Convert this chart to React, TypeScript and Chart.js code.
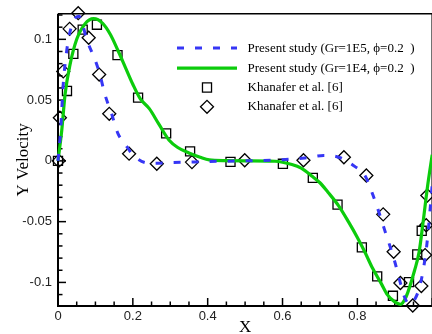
import React, { useEffect, useRef } from 'react';
import { Chart, registerables } from 'chart.js';

Chart.register(...registerables);

// Present study, Gr=1E5 (blue dashed)
const gr1e5X = [0, 0.007, 0.014, 0.023, 0.032, 0.045, 0.056, 0.066, 0.076, 0.098, 0.112, 0.125, 0.143, 0.16, 0.178, 0.2, 0.236, 0.26, 0.3, 0.35, 0.4, 0.5, 0.6, 0.66, 0.71, 0.75, 0.793, 0.82, 0.845, 0.873, 0.9, 0.912, 0.926, 0.939, 0.955, 0.966, 0.977, 0.986, 1.0];
const gr1e5Y = [0, 0.025, 0.063, 0.09, 0.106, 0.117, 0.119, 0.112, 0.1005, 0.084, 0.071, 0.055, 0.039, 0.0226, 0.0145, 0.005, -0.0016, -0.002, -0.0015, -0.001, -0.0005, 0, 0.001, 0.0024, 0.0045, 0.003, -0.0045, -0.012, -0.031, -0.057, -0.083, -0.097, -0.112, -0.118, -0.113, -0.104, -0.088, -0.068, -0.02];

// Present study, Gr=1E4 (green solid)
const gr1e4X = [0, 0.01, 0.019, 0.032, 0.05, 0.072, 0.095, 0.12, 0.14, 0.16, 0.18, 0.2, 0.22, 0.244, 0.27, 0.297, 0.32, 0.35, 0.38, 0.404, 0.45, 0.5, 0.58, 0.625, 0.65, 0.678, 0.7, 0.722, 0.75, 0.776, 0.8, 0.82, 0.84, 0.864, 0.88, 0.9, 0.915, 0.93, 0.953, 0.965, 0.975, 0.988, 1.0];
const gr1e4Y = [0, 0.025, 0.055, 0.079, 0.1, 0.1127, 0.117, 0.113, 0.104, 0.091, 0.077, 0.063, 0.051, 0.043, 0.03, 0.017, 0.011, 0.0065, 0.003, 0.0008, 0.0002, 0, -0.0003, -0.003, -0.006, -0.0124, -0.018, -0.026, -0.037, -0.05, -0.063, -0.075, -0.088, -0.101, -0.11, -0.116, -0.118, -0.112, -0.09, -0.075, -0.052, -0.02, 0.005];

// Khanafer et al. [6] (squares)
const squareX = [0, 0.024, 0.041, 0.066, 0.104, 0.159, 0.214, 0.289, 0.353, 0.461, 0.601, 0.681, 0.747, 0.812, 0.853, 0.895, 0.938, 0.96, 0.972];
const squareY = [0, 0.0575, 0.088, 0.108, 0.112, 0.087, 0.052, 0.0226, 0.0078, -0.0008, -0.0024, -0.014, -0.036, -0.0712, -0.095, -0.111, -0.0997, -0.077, -0.0575];

// Khanafer et al. [6] (diamonds)
const diamondX = [0.002, 0.005, 0.014, 0.031, 0.054, 0.082, 0.11, 0.137, 0.19, 0.264, 0.358, 0.499, 0.656, 0.764, 0.824, 0.869, 0.897, 0.915, 0.948, 0.971, 0.981, 0.984, 0.987];
const diamondY = [0, 0.0355, 0.0736, 0.1086, 0.1215, 0.1013, 0.071, 0.0387, 0.0059, -0.0024, -0.001, 0.0005, 0.0005, 0.003, -0.012, -0.044, -0.0748, -0.1005, -0.119, -0.103, -0.0775, -0.053, -0.0285];

const seriesLabels = [
  'Present study (Gr=1E5, \u03d5=0.2  )',
  'Present study (Gr=1E4, \u03d5=0.2  )',
  'Khanafer et al. [6]',
  'Khanafer et al. [6]',
];

const xMajorTicks = [0, 0.2, 0.4, 0.6, 0.8, 1];
const yMajorTicks = [-0.1, -0.05, 0, 0.05, 0.1];
const xTickLabels = ['0', '0.2', '0.4', '0.6', '0.8', ''];
const yTickLabels = ['-0.1', '-0.05', '0', '0.05', '0.1'];
const xMinorStep = 0.05;
const yMinorStep = 0.01;

const toPoints = (xs: number[], ys: number[]) => xs.map((x, i) => ({ x, y: ys[i] }));

const framePlugin = {
  id: 'frameTicks',
  beforeDatasetsDraw(chart: any) {
    const { ctx, chartArea: a, scales } = chart;
    const xs = scales.x;
    const ys = scales.y;
    ctx.save();
    ctx.strokeStyle = '#000';
    ctx.lineWidth = 1.5;
    ctx.beginPath();
    ctx.moveTo(a.left, a.top);
    ctx.lineTo(a.right, a.top);
    ctx.lineTo(a.right, a.bottom);
    ctx.stroke();
    ctx.lineWidth = 2;
    ctx.beginPath();
    ctx.moveTo(a.left, a.top);
    ctx.lineTo(a.left, a.bottom);
    ctx.lineTo(a.right, a.bottom);
    ctx.stroke();
    ctx.lineWidth = 1.5;
    const nx = Math.round((xs.max - xs.min) / xMinorStep);
    for (let i = 0; i <= nx; i++) {
      const v = xs.min + i * xMinorStep;
      const major = xMajorTicks.some((t) => Math.abs(t - v) < 1e-6);
      const px = xs.getPixelForValue(v);
      ctx.beginPath();
      ctx.moveTo(px, a.bottom);
      ctx.lineTo(px, a.bottom - (major ? 8 : 4.5));
      ctx.stroke();
    }
    const start = Math.ceil(ys.min / yMinorStep - 1e-6);
    const end = Math.floor(ys.max / yMinorStep + 1e-6);
    for (let k = start; k <= end; k++) {
      const v = k * yMinorStep;
      const major = yMajorTicks.some((t) => Math.abs(t - v) < 1e-6);
      const py = ys.getPixelForValue(v);
      ctx.beginPath();
      ctx.moveTo(a.left, py);
      ctx.lineTo(a.left + (major ? 8 : 4.5), py);
      ctx.stroke();
    }
    ctx.restore();
  },
};

const legendPlugin = {
  id: 'insideLegend',
  afterDraw(chart: any) {
    const { ctx, chartArea: a } = chart;
    const ds = chart.data.datasets;
    const x0 = a.left + 119;
    const x1 = a.left + 179;
    const xm = (x0 + x1) / 2;
    const tx = a.left + 189.5;
    const rows = [a.top + 34.3, a.top + 54.3, a.top + 73.7, a.top + 93];
    ctx.save();
    ctx.font = '13px "Liberation Serif", "Times New Roman", serif';
    ctx.textBaseline = 'middle';
    ctx.textAlign = 'left';
    ctx.fillStyle = '#000';
    ds.forEach((d: any, i: number) => {
      const y = rows[i];
      if (d.showLine) {
        ctx.save();
        ctx.strokeStyle = d.borderColor;
        ctx.lineWidth = d.borderWidth;
        ctx.setLineDash(d.borderDash || []);
        ctx.beginPath();
        ctx.moveTo(x0, y);
        ctx.lineTo(x1, y);
        ctx.stroke();
        ctx.restore();
      } else {
        ctx.save();
        ctx.strokeStyle = d.pointBorderColor;
        ctx.lineWidth = d.pointBorderWidth;
        const r = d.pointRadius;
        ctx.beginPath();
        if (d.pointStyle === 'rect') {
          const s = Math.SQRT1_2 * r;
          ctx.rect(xm - s, y - s, 2 * s, 2 * s);
        } else {
          ctx.moveTo(xm - r, y);
          ctx.lineTo(xm, y - r);
          ctx.lineTo(xm + r, y);
          ctx.lineTo(xm, y + r);
          ctx.closePath();
        }
        ctx.stroke();
        ctx.restore();
      }
      ctx.fillText(d.label, tx, y);
    });
    ctx.restore();
  },
};

export default function App() {
  const ref = useRef<HTMLCanvasElement | null>(null);
  useEffect(() => {
    document.body.style.margin = '0';
    const canvas = ref.current;
    if (!canvas) return;
    const tickFont = { family: '"Liberation Sans", Arial, sans-serif', size: 13 };
    const titleFont = { family: '"Liberation Serif", "Times New Roman", serif', size: 17 };
    const chart = new Chart(canvas, {
      type: 'scatter',
      data: {
        datasets: [
          {
            label: seriesLabels[0],
            data: toPoints(gr1e5X, gr1e5Y),
            showLine: true,
            borderColor: '#3636f5',
            borderWidth: 3,
            borderDash: [7, 11],
            pointRadius: 0,
            cubicInterpolationMode: 'monotone',
            clip: false,
          } as any,
          {
            label: seriesLabels[1],
            data: toPoints(gr1e4X, gr1e4Y),
            showLine: true,
            borderColor: '#0ccc0c',
            borderWidth: 3.2,
            pointRadius: 0,
            cubicInterpolationMode: 'monotone',
            clip: false,
          } as any,
          {
            label: seriesLabels[2],
            data: toPoints(squareX, squareY),
            showLine: false,
            pointStyle: 'rect',
            pointRadius: 6.4,
            pointBorderColor: '#000',
            pointBackgroundColor: 'rgba(0,0,0,0)',
            pointBorderWidth: 1.3,
            clip: false,
          } as any,
          {
            label: seriesLabels[3],
            data: toPoints(diamondX, diamondY),
            showLine: false,
            pointStyle: 'rectRot',
            pointRadius: 6.5,
            pointBorderColor: '#000',
            pointBackgroundColor: 'rgba(0,0,0,0)',
            pointBorderWidth: 1.3,
            clip: false,
          } as any,
        ],
      },
      options: {
        responsive: false,
        animation: false,
        layout: { padding: { top: 8, right: 5.5, left: 0, bottom: 0 } },
        plugins: { legend: { display: false }, tooltip: { enabled: false }, title: { display: false } },
        scales: {
          x: {
            type: 'linear',
            min: 0,
            max: 1,
            afterBuildTicks: (s: any) => {
              s.ticks = xMajorTicks.map((v) => ({ value: v }));
            },
            afterFit: (s: any) => {
              s.height = 28;
            },
            ticks: {
              font: tickFont,
              color: '#222',
              padding: 3,
              maxRotation: 0,
              autoSkip: false,
              callback: (v: any) => {
                const i = xMajorTicks.findIndex((t) => Math.abs(t - Number(v)) < 1e-6);
                return i >= 0 ? xTickLabels[i] : '';
              },
            },
            grid: { display: false, drawTicks: false },
            border: { display: false },
            title: { display: true, text: 'X', font: { ...titleFont, lineHeight: 0.75 }, color: '#000', padding: 0 },
          },
          y: {
            type: 'linear',
            min: -0.1194,
            max: 0.121,
            afterBuildTicks: (s: any) => {
              s.ticks = yMajorTicks.map((v) => ({ value: v }));
            },
            afterFit: (s: any) => {
              s.width = 58;
            },
            ticks: {
              font: tickFont,
              color: '#222',
              padding: 6,
              autoSkip: false,
              callback: (v: any) => {
                const i = yMajorTicks.findIndex((t) => Math.abs(t - Number(v)) < 1e-6);
                return i >= 0 ? yTickLabels[i] : '';
              },
            },
            grid: { display: false, drawTicks: false },
            border: { display: false },
            title: { display: true, text: 'Y Velocity', font: titleFont, color: '#000', padding: { top: 13, bottom: 0 } },
          },
        },
      } as any,
      plugins: [framePlugin, legendPlugin],
    });
    return () => chart.destroy();
  }, []);
  return (
    <div style={{ position: 'fixed', left: 0, top: 0, width: 432, height: 334, overflow: 'hidden', background: '#fff' }}>
      <canvas ref={ref} width={440} height={334} style={{ display: 'block' }} />
    </div>
  );
}
